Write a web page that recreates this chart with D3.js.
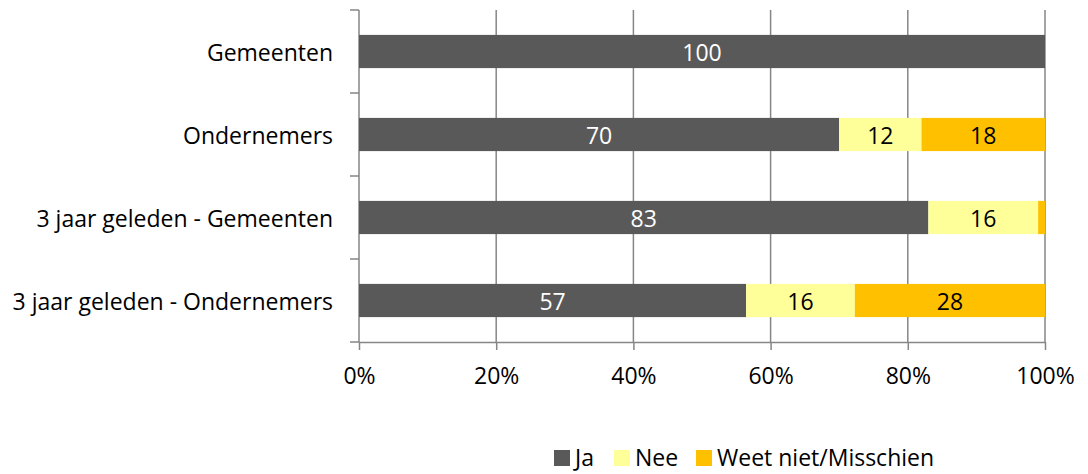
<!DOCTYPE html>
<html>
<head>
<meta charset="utf-8">
<script src="https://cdn.jsdelivr.net/npm/d3@7"></script>
<style>
  body { margin: 0; background: #fff; }
  svg text { font-family: "Open Sans", sans-serif; }
</style>
</head>
<body>
<svg id="chart" width="1088" height="474"></svg>
<script>
// Survey groups, top to bottom
const categories = ["Gemeenten", "Ondernemers", "3 jaar geleden - Gemeenten", "3 jaar geleden - Ondernemers"];
const seriesNames = ["Ja", "Nee", "Weet niet/Misschien"];
const ja = [100, 70, 83, 57];
const nee = [0, 12, 16, 16];
const weetNiet = [0, 18, 1, 28];
const colors = ["#595959", "#FFFF99", "#FFC000"];
const labelColors = ["#ffffff", "#000000", "#000000"];
const xTicks = [0, 0.2, 0.4, 0.6, 0.8, 1];
const FONT = 23;

const svg = d3.select("#chart");
const margin = { left: 359, right: 43, top: 10, bottom: 132 };
const W = 1088, H = 474;
const x = d3.scaleLinear().domain([0, 1]).range([margin.left, W - margin.right]);
const y = d3.scaleBand().domain(categories).range([margin.top, H - margin.bottom]).paddingInner(0.6).paddingOuter(0.3);

const rows = categories.map((c, i) => ({ cat: c, vals: [ja[i], nee[i], weetNiet[i]] }));

// vertical gridlines
svg.append("g").selectAll("line").data(xTicks.slice(1)).join("line")
  .attr("x1", d => x(d)).attr("x2", d => x(d))
  .attr("y1", margin.top).attr("y2", H - margin.bottom)
  .attr("stroke", "#868686").attr("stroke-width", 1.5);

// x axis
const xAxis = svg.append("g").attr("transform", `translate(0,${H - margin.bottom})`)
  .call(d3.axisBottom(x).tickValues(xTicks).tickFormat(d3.format(".0%")).tickSizeInner(8).tickSizeOuter(0).tickPadding(18));
xAxis.select(".domain").attr("stroke", "#868686").attr("stroke-width", 1.5);
xAxis.selectAll(".tick line").attr("stroke", "#868686").attr("stroke-width", 1.5);
xAxis.selectAll("text").attr("font-size", FONT).attr("fill", "#000").attr("font-family", "'Open Sans', sans-serif");

// y axis with ticks at band boundaries
const yAxisG = svg.append("g");
yAxisG.append("line").attr("x1", x(0)).attr("x2", x(0)).attr("y1", margin.top).attr("y2", H - margin.bottom)
  .attr("stroke", "#868686").attr("stroke-width", 1.5);
const bounds = d3.range(categories.length + 1).map(i => y.range()[0] + i * (y.range()[1] - y.range()[0]) / categories.length);
yAxisG.selectAll("line.t").data(bounds).join("line").attr("class", "t")
  .attr("x1", x(0) - 9).attr("x2", x(0)).attr("y1", d => d).attr("y2", d => d)
  .attr("stroke", "#868686").attr("stroke-width", 1.5);
yAxisG.selectAll("text").data(categories).join("text")
  .attr("x", x(0) - 26).attr("y", d => y(d) + y.bandwidth() / 2)
  .attr("text-anchor", "end").attr("dominant-baseline", "central")
  .attr("font-size", FONT).attr("fill", "#000").text(d => d);

// stacked bars normalized to 100%
const segs = [];
rows.forEach(r => {
  const total = d3.sum(r.vals);
  let acc = 0;
  r.vals.forEach((v, k) => {
    segs.push({ cat: r.cat, k, v, x0: acc / total, x1: (acc + v) / total });
    acc += v;
  });
});
svg.append("g").selectAll("rect").data(segs.filter(s => s.v > 0)).join("rect")
  .attr("x", s => x(s.x0)).attr("width", s => x(s.x1) - x(s.x0))
  .attr("y", s => y(s.cat)).attr("height", y.bandwidth())
  .attr("fill", s => colors[s.k]);

svg.append("g").selectAll("text").data(segs.filter(s => s.v >= 3)).join("text")
  .attr("x", s => (x(s.x0) + x(s.x1)) / 2).attr("y", s => y(s.cat) + y.bandwidth() / 2)
  .attr("text-anchor", "middle").attr("dominant-baseline", "central")
  .attr("font-size", FONT).attr("fill", s => labelColors[s.k]).text(s => s.v);

// legend
const legendX = [554, 614, 696];
const lg = svg.append("g").selectAll("g").data(seriesNames).join("g")
  .attr("transform", (d, i) => `translate(${legendX[i]},450)`);
lg.append("rect").attr("width", 16).attr("height", 16).attr("fill", (d, i) => colors[i]);
lg.append("text").attr("x", 21).attr("y", 16)
  .attr("font-size", FONT).attr("fill", "#000").text(d => d);
</script>
</body>
</html>
